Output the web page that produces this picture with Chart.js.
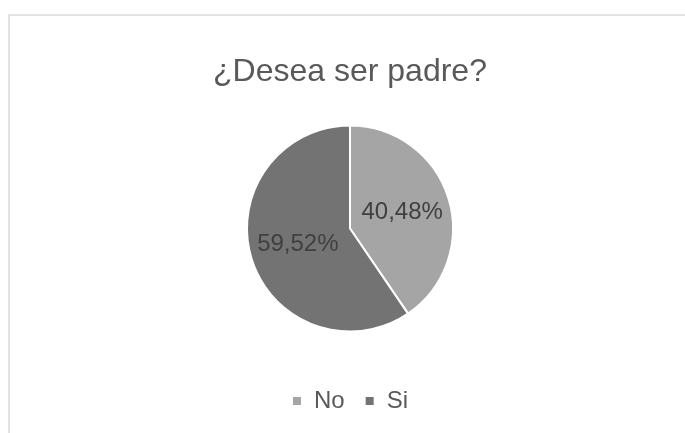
<!DOCTYPE html>
<html>
<head>
<meta charset="utf-8">
<script src="https://cdn.jsdelivr.net/npm/chart.js@4.4.1/dist/chart.umd.min.js"></script>
<style>
    html, body { margin: 0; padding: 0; background: #fff; overflow: hidden; }
    .chart-frame {
        position: absolute;
        left: 8px;
        top: 14px;
        width: 690px;
        height: 440px;
        border-left: 2px solid #e2e2e2;
        border-top: 2px solid #e2e2e2;
    }
    .chart-frame canvas { display: block; }
</style>
</head>
<body>
<div class="chart-frame">
    <canvas id="pieChart" width="680" height="440"></canvas>
</div>
<script>
// Chart data
const categories = ['No', 'Si'];
const percentages = [40.48, 59.52];
const sliceColors = ['#a5a5a5', '#737373'];

const fontFamily = '"Liberation Sans", Arial, sans-serif';

// Draws the percentage text inside each slice
const sliceLabels = {
    id: 'sliceLabels',
    afterDatasetsDraw(chart) {
        const ctx = chart.ctx;
        const meta = chart.getDatasetMeta(0);
        ctx.save();
        ctx.font = '24px ' + fontFamily;
        ctx.fillStyle = '#404040';
        ctx.textAlign = 'center';
        ctx.textBaseline = 'middle';
        meta.data.forEach((arc, i) => {
            const p = arc.getProps(['x', 'y', 'startAngle', 'endAngle', 'outerRadius'], true);
            const mid = (p.startAngle + p.endAngle) / 2;
            const r = p.outerRadius * 0.53;
            const text = percentages[i].toFixed(2).replace('.', ',') + '%';
            ctx.fillText(text, p.x + Math.cos(mid) * r, p.y + Math.sin(mid) * r);
        });
        ctx.restore();
    }
};

new Chart(document.getElementById('pieChart'), {
    type: 'pie',
    data: {
        labels: categories,
        datasets: [{
            data: percentages,
            backgroundColor: sliceColors,
            borderColor: '#ffffff',
            borderWidth: 2,
            radius: 103
        }]
    },
    options: {
        responsive: false,
        animation: false,
        layout: {
            padding: { top: 0, bottom: 33 }
        },
        plugins: {
            title: {
                display: true,
                text: '¿Desea ser padre?',
                color: '#595959',
                font: { family: fontFamily, size: 32, weight: 'normal', lineHeight: 1 },
                padding: { top: 40, bottom: 0 }
            },
            legend: {
                position: 'bottom',
                labels: {
                    color: '#595959',
                    font: { family: fontFamily, size: 24 },
                    boxWidth: 10,
                    boxHeight: 10,
                    padding: 20
                }
            },
            tooltip: { enabled: false }
        }
    },
    plugins: [sliceLabels]
});
</script>
</body>
</html>
